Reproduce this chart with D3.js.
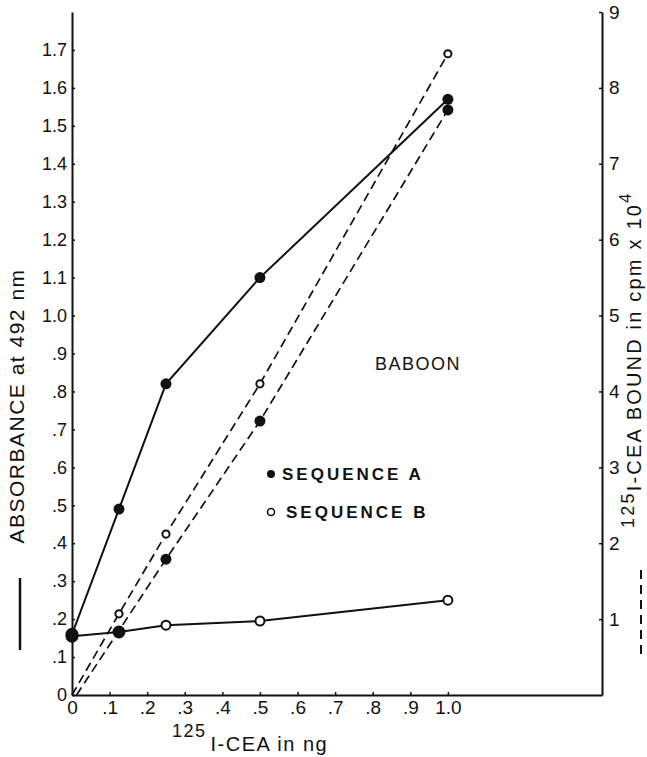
<!DOCTYPE html>
<html>
<head>
<meta charset="utf-8">
<script src="https://cdn.jsdelivr.net/npm/d3@7"></script>
<style>
  body { margin: 0; background: #fff; }
  svg text { font-family: "Liberation Sans", Arial, sans-serif; fill: #111; }
</style>
</head>
<body>
<div id="chart"></div>
<script>
// dose of 125I-CEA (ng)
var dose = [0, 0.125, 0.25, 0.5, 1.0];

// absorbance at 492 nm (solid lines, left axis)
var absorbA = [0.16, 0.49, 0.82, 1.10, 1.57];
var absorbB = [0.155, 0.166, 0.184, 0.195, 0.25];

// 125I-CEA bound, cpm x 10^4 (dashed lines, right axis)
var boundDoseA = [0.012, 0.25, 0.5, 1.0];
var boundA = [0, 1.79, 3.61, 7.71];
var boundDoseB = [0, 0.125, 0.25, 0.5, 1.0];
var boundB = [0, 1.07, 2.12, 4.10, 8.45];

var xTicks = [0, 0.1, 0.2, 0.3, 0.4, 0.5, 0.6, 0.7, 0.8, 0.9, 1.0];
var xTickLabels = ["0", ".1", ".2", ".3", ".4", ".5", ".6", ".7", ".8", ".9", "1.0"];
var yTicks = d3.range(0, 18).map(function (i) { return i / 10; });
var yTickLabels = ["0", ".1", ".2", ".3", ".4", ".5", ".6", ".7", ".8", ".9",
  "1.0", "1.1", "1.2", "1.3", "1.4", "1.5", "1.6", "1.7"];
var rTicks = [1, 2, 3, 4, 5, 6, 7, 8, 9];

var width = 647, height = 757;
var margin = { left: 72, right: 602, top: 12, bottom: 695 };

var svg = d3.select("#chart").append("svg")
  .attr("width", width)
  .attr("height", height);

var x = d3.scaleLinear().domain([0, 1.41]).range([margin.left, margin.right]);
var y = d3.scaleLinear().domain([0, 1.8]).range([margin.bottom, margin.top]);
var yR = d3.scaleLinear().domain([0, 9]).range([margin.bottom, margin.top]);

// axes
var gx = svg.append("g")
  .attr("transform", "translate(0," + margin.bottom + ")")
  .call(d3.axisBottom(x).tickValues(xTicks)
    .tickFormat(function (d, i) { return xTickLabels[i]; })
    .tickSizeInner(-3).tickSizeOuter(0).tickPadding(6));
gx.selectAll("text").style("font-size", "19px");

var gy = svg.append("g")
  .attr("transform", "translate(" + margin.left + ",0)")
  .call(d3.axisLeft(y).tickValues(yTicks)
    .tickFormat(function (d, i) { return yTickLabels[i]; })
    .tickSizeInner(-3).tickSizeOuter(0).tickPadding(5));
gy.selectAll("text").style("font-size", "18px");

var gr = svg.append("g")
  .attr("transform", "translate(" + margin.right + ",0)")
  .call(d3.axisRight(yR).tickValues(rTicks)
    .tickFormat(d3.format("d"))
    .tickSizeInner(-3).tickSizeOuter(0).tickPadding(7));
gr.selectAll("text").style("font-size", "19px");

svg.selectAll(".domain").attr("stroke", "#111").attr("stroke-width", 2);
svg.selectAll(".tick line").attr("stroke", "#111").attr("stroke-width", 1.5);

// lines
function series(xs, ys) {
  return xs.map(function (d, i) { return { x: d, y: ys[i] }; });
}

var solid = d3.line().x(function (d) { return x(d.x); }).y(function (d) { return y(d.y); });
var dashed = d3.line().x(function (d) { return x(d.x); }).y(function (d) { return yR(d.y); });

var sA = series(dose, absorbA),
  sB = series(dose, absorbB),
  dA = series(boundDoseA, boundA),
  dB = series(boundDoseB, boundB);

svg.append("path").datum(dA).attr("d", dashed)
  .attr("fill", "none").attr("stroke", "#111").attr("stroke-width", 1.7)
  .attr("stroke-dasharray", "9,5");
svg.append("path").datum(dB).attr("d", dashed)
  .attr("fill", "none").attr("stroke", "#111").attr("stroke-width", 1.7)
  .attr("stroke-dasharray", "9,5");
svg.append("path").datum(sA).attr("d", solid)
  .attr("fill", "none").attr("stroke", "#111").attr("stroke-width", 2);
svg.append("path").datum(sB).attr("d", solid)
  .attr("fill", "none").attr("stroke", "#111").attr("stroke-width", 2);

// markers
svg.selectAll(".mA").data(sA).enter().append("circle")
  .attr("cx", function (d) { return x(d.x); })
  .attr("cy", function (d) { return y(d.y); })
  .attr("r", function (d) { return d.x === 0 ? 6.5 : 5.5; })
  .attr("fill", "#111");

// the bottom curve: points hidden under the crossing are drawn filled
svg.selectAll(".mB").data(sB).enter().append("circle")
  .attr("cx", function (d) { return x(d.x); })
  .attr("cy", function (d) { return y(d.y); })
  .attr("r", function (d) { return d.x < 0.2 ? 5.5 : 4.5; })
  .attr("fill", function (d) { return d.x < 0.2 ? "#111" : "#fff"; })
  .attr("stroke", "#111").attr("stroke-width", 2);

svg.selectAll(".mdA").data(dA.slice(1)).enter().append("circle")
  .attr("cx", function (d) { return x(d.x); })
  .attr("cy", function (d) { return yR(d.y); })
  .attr("r", 5.5)
  .attr("fill", "#111");

svg.selectAll(".mdB").data(dB.slice(1)).enter().append("circle")
  .attr("cx", function (d) { return x(d.x); })
  .attr("cy", function (d) { return yR(d.y); })
  .attr("r", 3.6)
  .attr("fill", "#fff").attr("stroke", "#111").attr("stroke-width", 2);

// annotations
svg.append("text").attr("x", 375).attr("y", 370)
  .style("font-size", "18px").style("letter-spacing", "1.5px")
  .text("BABOON");

svg.append("circle").attr("cx", 271).attr("cy", 474).attr("r", 4).attr("fill", "#111");
svg.append("text").attr("x", 282).attr("y", 480)
  .style("font-size", "17px").style("font-weight", "bold").style("letter-spacing", "3px")
  .text("SEQUENCE A");
svg.append("circle").attr("cx", 271).attr("cy", 512).attr("r", 3.5)
  .attr("fill", "#fff").attr("stroke", "#111").attr("stroke-width", 1.6);
svg.append("text").attr("x", 286).attr("y", 518)
  .style("font-size", "17px").style("font-weight", "bold").style("letter-spacing", "3px")
  .text("SEQUENCE B");

// axis titles
svg.append("text")
  .attr("transform", "translate(24,406) rotate(-90)")
  .attr("text-anchor", "middle")
  .style("font-size", "21px").style("letter-spacing", "1.5px")
  .text("ABSORBANCE at 492 nm");
svg.append("line").attr("x1", 20).attr("x2", 20).attr("y1", 578).attr("y2", 650)
  .attr("stroke", "#111").attr("stroke-width", 2.5);

var rt = svg.append("text")
  .attr("transform", "translate(641,528) rotate(-90)")
  .style("font-size", "20px").style("letter-spacing", "2.2px");
rt.append("tspan").attr("dy", "-7").style("font-size", "18px").text("125");
rt.append("tspan").attr("dy", "7").text("I-CEA BOUND in cpm x 10");
rt.append("tspan").attr("dy", "-10").style("font-size", "17px").text("4");

svg.append("line").attr("x1", 641).attr("x2", 641).attr("y1", 570).attr("y2", 660)
  .attr("stroke", "#111").attr("stroke-width", 2).attr("stroke-dasharray", "9,6");

var xt = svg.append("text").attr("x", 172).attr("y", 751)
  .style("font-size", "20px").style("letter-spacing", "1.5px");
xt.append("tspan").attr("dy", "-14").style("font-size", "18px").text("125");
xt.append("tspan").attr("dx", "4").attr("dy", "14").text("I-CEA in ng");
</script>
</body>
</html>
